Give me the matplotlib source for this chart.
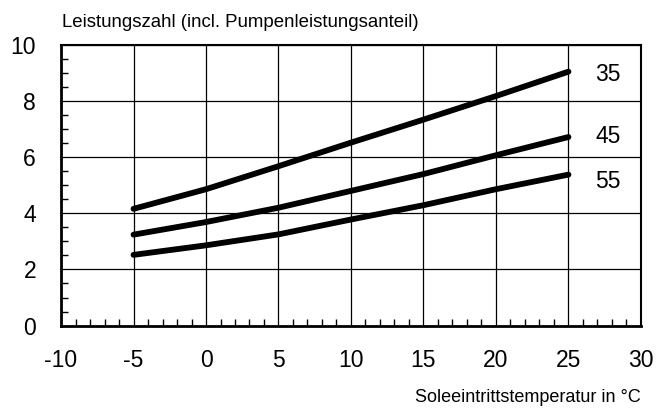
import matplotlib
matplotlib.use("Agg")
import matplotlib.pyplot as plt
import matplotlib.ticker as ticker

plt.rcParams['font.family'] = ['Liberation Sans', 'DejaVu Sans']

# Soleeintrittstemperatur in °C
temps = [-5, 0, 5, 10, 15, 20, 25]
# Leistungszahl for each Vorlauftemperatur
cop_35 = [4.16, 4.86, 5.68, 6.52, 7.34, 8.18, 9.05]
cop_45 = [3.24, 3.69, 4.20, 4.80, 5.40, 6.07, 6.72]
cop_55 = [2.52, 2.86, 3.25, 3.78, 4.29, 4.86, 5.38]
labels = ["35", "45", "55"]
label_y = [8.95, 6.75, 5.12]

fig = plt.figure(figsize=(6.59, 4.09), dpi=100)
ax = fig.add_axes([0.0926, 0.204, 0.88, 0.686])

for vals, lab, ly in zip([cop_35, cop_45, cop_55], labels, label_y):
    ax.plot(temps, vals, color='black', lw=4.2, solid_capstyle='round',
            solid_joinstyle='round', zorder=3)
    ax.text(27.75, ly, lab, fontsize=16.5, ha='center', va='center')

ax.set_xlim(-10, 30)
ax.set_ylim(0, 10)
ax.xaxis.set_major_locator(ticker.MultipleLocator(5))
ax.xaxis.set_minor_locator(ticker.MultipleLocator(1))
ax.yaxis.set_major_locator(ticker.MultipleLocator(2))
ax.yaxis.set_minor_locator(ticker.MultipleLocator(0.5))
ax.grid(which='major', color='black', lw=0.9)
ax.tick_params(which='major', direction='in', length=0, labelsize=16.5, pad=17)
ax.tick_params(axis='y', which='major', pad=18)
ax.tick_params(which='minor', direction='in', length=5, width=1)
ax.xaxis.set_major_formatter(ticker.FuncFormatter(lambda v, p: f"{v:g}"))

for side in ['left', 'bottom']:
    ax.spines[side].set_linewidth(2)
for side in ['top', 'right']:
    ax.spines[side].set_linewidth(1.5)

fig.text(0.094, 0.944, "Leistungszahl (incl. Pumpenleistungsanteil)", fontsize=13.4, ha='left', va='center')
fig.text(0.972, 0.029, "Soleeintrittstemperatur in °C", fontsize=13, ha='right', va='center')

fig.savefig("out.png", dpi=100)
